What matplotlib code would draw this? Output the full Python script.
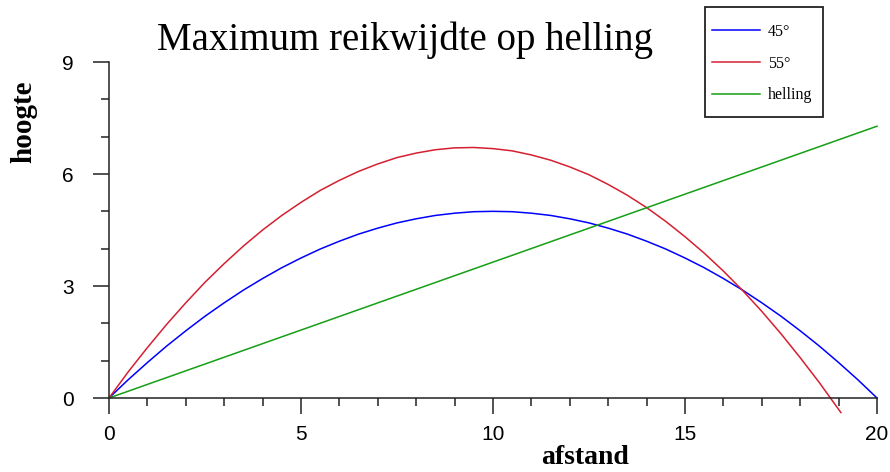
import matplotlib
matplotlib.use("Agg")
import matplotlib.pyplot as plt
from matplotlib.ticker import MultipleLocator
from matplotlib.patches import Rectangle

# Data
x_45 = [0, 0.5, 1, 1.5, 2, 2.5, 3, 3.5, 4, 4.5, 5, 5.5, 6, 6.5, 7, 7.5, 8, 8.5, 9, 9.5,
        10, 10.5, 11, 11.5, 12, 12.5, 13, 13.5, 14, 14.5, 15, 15.5, 16, 16.5, 17, 17.5,
        18, 18.5, 19, 19.5, 20]
y_45 = [0, 0.49, 0.95, 1.39, 1.8, 2.19, 2.55, 2.89, 3.2, 3.49, 3.75, 3.99, 4.2, 4.39,
        4.55, 4.69, 4.8, 4.89, 4.95, 4.99, 5.0, 4.99, 4.95, 4.89, 4.8, 4.69, 4.55, 4.39,
        4.2, 3.99, 3.75, 3.49, 3.2, 2.89, 2.55, 2.19, 1.8, 1.39, 0.95, 0.49, 0]
x_55 = [0, 0.5, 1, 1.5, 2, 2.5, 3, 3.5, 4, 4.5, 5, 5.5, 6, 6.5, 7, 7.5, 8, 8.5, 9, 9.5,
        10, 10.5, 11, 11.5, 12, 12.5, 13, 13.5, 14, 14.5, 15, 15.5, 16, 16.5, 17, 17.5,
        18, 18.5, 19.06]
y_55 = [0, 0.7, 1.35, 1.97, 2.55, 3.1, 3.6, 4.07, 4.5, 4.89, 5.24, 5.56, 5.83, 6.07,
        6.27, 6.44, 6.56, 6.65, 6.7, 6.71, 6.68, 6.62, 6.51, 6.37, 6.19, 5.98, 5.72,
        5.43, 5.1, 4.73, 4.32, 3.88, 3.4, 2.88, 2.32, 1.72, 1.08, 0.41, -0.39]
x_helling = [0, 20]
y_helling = [0, 7.28]
labels = ["45°", "55°", "helling"]
x_ticks = [0, 5, 10, 15, 20]
y_ticks = [0, 3, 6, 9]

fig = plt.figure(figsize=(8.9, 4.72), dpi=100)
ax = fig.add_axes([109/890, 1-398/472, (877-109)/890, (398-62)/472])

lw = 1.1
ax.plot(x_45, y_45, color="#0000ff", lw=lw, label=labels[0], clip_on=False)
ax.plot(x_55, y_55, color="#d42030", lw=lw, label=labels[1], clip_on=False)
ax.plot(x_helling, y_helling, color="#159f15", lw=lw, label=labels[2], clip_on=False)

ax.set_xlim(0, 20)
ax.set_ylim(0, 9)
for s in ["top", "right"]:
    ax.spines[s].set_visible(False)
for s in ["left", "bottom"]:
    ax.spines[s].set_linewidth(1.1)
    ax.spines[s].set_color("#222222")
ax.set_xticks(x_ticks)
ax.set_yticks(y_ticks)
ax.xaxis.set_minor_locator(MultipleLocator(1))
ax.yaxis.set_minor_locator(MultipleLocator(1))
ax.tick_params(which="major", direction="out", length=11.5, width=1.1, color="#222222")
ax.tick_params(which="minor", direction="out", length=6, width=1.1, color="#222222")
ax.tick_params(axis="y", which="major", pad=14)
ax.tick_params(axis="x", which="major", pad=8)
for lab in ax.get_xticklabels() + ax.get_yticklabels():
    lab.set_fontfamily("Liberation Sans")
    lab.set_fontsize(15)
ax.patch.set_visible(False)

fig.text(405/890, 1-40/472, "Maximum reikwijdte op helling", family="Liberation Serif",
         fontsize=28, ha="center", va="center")
fig.text(24/890, 1-122/472, "hoogte", family="Liberation Serif", fontsize=21,
         fontweight="bold", rotation=90, ha="center", va="center")
fig.text(585/890, 1-458/472, "afstand", family="Liberation Serif", fontsize=20,
         fontweight="bold", ha="center", va="center")

# legend frame
fig.patches.append(Rectangle((705/890, 1-117/472), 118/890, 110/472,
                             transform=fig.transFigure, facecolor="white",
                             edgecolor="#222222", linewidth=1.3, zorder=5))
leg = fig.legend(loc="upper left", bbox_to_anchor=(712/890, 1-24/472),
                 prop={"family": "Liberation Serif", "size": 11.5},
                 frameon=False, handlelength=3.0, handletextpad=0.5,
                 labelspacing=0.98, borderpad=0, borderaxespad=0)
leg.set_zorder(6)

fig.savefig("out.png", dpi=100)
